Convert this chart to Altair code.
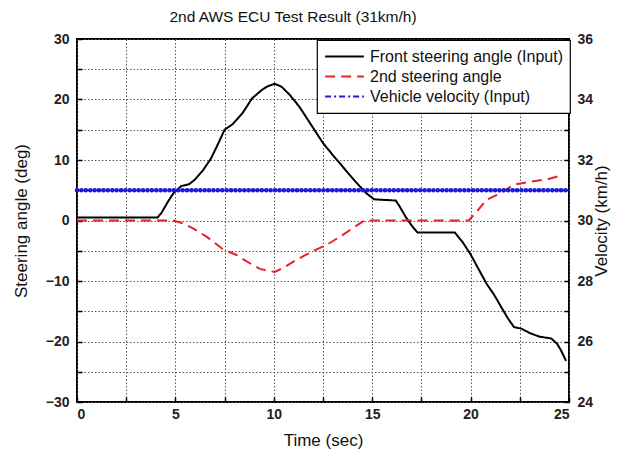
import altair as alt
import pandas as pd

# Front steering angle (input), deg
front_t = [0, 4.1, 4.3, 4.6, 4.9, 5.3, 5.7, 6.0, 6.4, 6.8, 7.1, 7.5, 7.9, 8.4, 8.9,
           9.4, 9.7, 10.05, 10.4, 10.8, 11.3, 11.9, 12.5, 13.0, 13.5, 14.1, 14.7,
           15.1, 15.6, 16.2, 16.4, 16.7, 17.0, 17.3, 19.2, 19.6, 20.0, 20.4, 20.8,
           21.2, 21.5, 21.9, 22.2, 22.6, 23.0, 23.5, 24.1, 24.4, 24.6, 24.85]
front_deg = [0.5, 0.5, 1.3, 3.0, 4.5, 5.7, 6.0, 6.8, 8.3, 10.2, 12.2, 15.0, 15.9, 17.7,
             20.2, 21.6, 22.2, 22.6, 22.1, 20.8, 18.8, 15.8, 12.8, 10.8, 8.9, 6.6, 4.5,
             3.5, 3.4, 3.3, 2.3, 0.6, -0.8, -2.0, -2.0, -3.6, -5.6, -8.0, -10.4,
             -12.3, -14.0, -16.2, -17.6, -17.9, -18.6, -19.2, -19.5, -20.4, -21.5, -23.2]

# 2nd (rear) steering angle, deg
second_t = [0, 4.9, 5.4, 5.9, 6.6, 7.4, 8.1, 8.9, 9.3, 9.7, 10.05, 10.5, 11.0, 11.5,
            12.1, 12.7, 13.4, 14.0, 14.6, 19.9, 20.3, 20.8, 21.5, 22.2, 23.0, 23.9, 24.5]
second_deg = [0, 0, -0.5, -1.3, -2.7, -4.7, -5.7, -7.3, -8.0, -8.3, -8.5, -7.8, -6.8,
              -5.9, -4.9, -4.0, -2.6, -1.3, 0, 0, 1.4, 3.4, 4.5, 5.9, 6.4, 6.8, 7.35]

# Vehicle velocity (input), km/h
vel_t = [0, 25]
vel_kmh = [31, 31]

series_names = ["Front steering angle (Input)", "2nd steering angle",
                "Vehicle velocity (Input)"]
series_colors = ["#000000", "#e8202a", "#1a1ad8"]
series_dashes = [[1, 0], [10, 6], [6, 3, 2, 3]]

time_ticks = [0, 2.5, 5, 7.5, 10, 12.5, 15, 17.5, 20, 22.5, 25]
angle_ticks = [-30, -25, -20, -15, -10, -5, 0, 5, 10, 15, 20, 25, 30]
vel_ticks = [24, 25, 26, 27, 28, 29, 30, 31, 32, 33, 34, 35, 36]

steer = pd.concat([
    pd.DataFrame({"t": front_t, "v": front_deg, "series": series_names[0]}),
    pd.DataFrame({"t": second_t, "v": second_deg, "series": series_names[1]}),
])
vel = pd.DataFrame({"t": vel_t, "v": vel_kmh, "series": series_names[2]})

FONT = "Liberation Sans"
TICK = 5  # inward tick length: axis pulled inside the frame by this much

x_enc = alt.X("t:Q", scale=alt.Scale(domain=[0, 25], nice=False),
              axis=alt.Axis(values=time_ticks, title="Time (sec)",
                            labelExpr="datum.value % 5 == 0 ? datum.label : ''",
                            offset=-TICK, labelPadding=5, titlePadding=11))

color_enc = alt.Color("series:N", scale=alt.Scale(domain=series_names, range=series_colors),
                      legend=alt.Legend(title=None))
dash_enc = alt.StrokeDash("series:N", scale=alt.Scale(domain=series_names, range=series_dashes),
                          legend=alt.Legend(title=None))

left = alt.Chart(steer).mark_line(strokeWidth=2).encode(
    x=x_enc,
    y=alt.Y("v:Q", scale=alt.Scale(domain=[-30, 30], nice=False),
            axis=alt.Axis(values=angle_ticks, title="Steering angle (deg)",
                          labelExpr="datum.value % 10 == 0 ? datum.label : ''",
                          offset=-TICK, labelPadding=8, titlePadding=15)),
    color=color_enc,
    strokeDash=dash_enc,
    detail="series:N",
)

vel_y = alt.Y("v:Q", scale=alt.Scale(domain=[24, 36], nice=False),
              axis=alt.Axis(orient="right", values=vel_ticks, grid=False,
                            labelExpr="datum.value % 2 == 0 ? datum.label : ''",
                            title="Velocity (km/h)", titleAngle=270,
                            offset=-TICK, labelPadding=8, titlePadding=18))

vel_line = alt.Chart(vel).mark_line(strokeWidth=1.5).encode(
    x=alt.X("t:Q"), y=vel_y, color=color_enc, strokeDash=dash_enc,
)
vel_dots = alt.Chart(vel).mark_line(strokeWidth=4.5, strokeCap="round",
                                    strokeDash=[0.1, 4.3], color="#1a1ad8").encode(
    x=alt.X("t:Q"), y=vel_y,
)
right = alt.layer(vel_line, vel_dots)

chart = alt.layer(left, right).resolve_scale(y="independent").properties(
    width=492, height=363,
    title=alt.TitleParams("2nd AWS ECU Test Result (31km/h)", fontSize=15.5,
                          font=FONT, fontWeight="normal", dx=-30, offset=7,
                          color="#111"),
    autosize=alt.AutoSizeParams(type="none"),
    padding={"left": 77, "top": 39, "right": 48, "bottom": 52},
).configure_view(
    stroke="#000", strokeWidth=2
).configure_axis(
    labelFont=FONT, labelFontSize=14, labelFontWeight="bold", labelColor="#222",
    titleFont=FONT, titleFontSize=17, titleFontWeight="normal", titleColor="#111",
    ticks=True, tickSize=TICK, tickColor="#000", tickWidth=1.5, domain=False,
    gridColor="#555", gridDash=[1.5, 2], gridWidth=1, gridOpacity=1,
).configure_legend(
    orient="none", legendX=240, legendY=1,
    fillColor="#ffffff", strokeColor="#000", strokeWidth=1.2,
    padding=7, rowPadding=1, clipHeight=19, symbolType="stroke", symbolSize=1500,
    symbolStrokeWidth=2, labelFont=FONT, labelFontSize=16, labelColor="#111",
    labelOffset=5, labelLimit=400,
)

chart.save("out.html", embed_options={"renderer": "svg", "actions": False})
